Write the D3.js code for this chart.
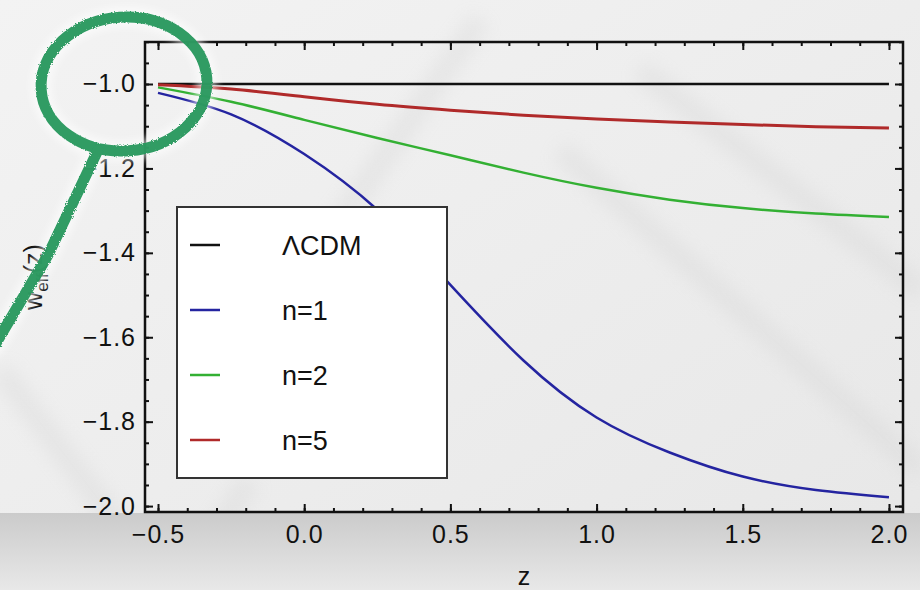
<!DOCTYPE html>
<html lang="en">
<head>
<meta charset="UTF-8">
<title>w_eff(z)</title>
<style>
  body { margin: 0; background: #ebebeb; }
  svg { display: block; }
  text { font-family: "Liberation Sans", Arial, sans-serif; fill: #111; }
</style>
</head>
<body>
<svg id="vis" width="920" height="590"></svg>
<script src="https://d3js.org/d3.v7.min.js"></script>
<script>
// Data
const zValues = [-0.5, -0.25, 0, 0.25, 0.5, 0.75, 1.0, 1.25, 1.5, 1.75, 2.0]
const lcdm = [-1, -1, -1, -1, -1, -1, -1, -1, -1, -1, -1]
const n1 = [-1.021, -1.072, -1.166, -1.298, -1.476, -1.655, -1.790, -1.873, -1.930, -1.962, -1.979]
const n2 = [-1.008, -1.042, -1.085, -1.128, -1.169, -1.210, -1.246, -1.274, -1.294, -1.307, -1.315]
const n5 = [-1.002, -1.012, -1.030, -1.048, -1.062, -1.074, -1.083, -1.090, -1.096, -1.101, -1.104]

const seriesNames = ['\u039BCDM', 'n=1', 'n=2', 'n=5']
const seriesColors = ['#111111', '#2424a0', '#33b033', '#b02a2a']
const seriesValues = [lcdm, n1, n2, n5]

const xMajor = [-0.5, 0, 0.5, 1.0, 1.5, 2.0]
const yMajor = [-2.0, -1.8, -1.6, -1.4, -1.2, -1.0]

// Layout
const frame = { left: 145, right: 903, top: 42, bottom: 512 }
const svg = d3.select('#vis')

const x = d3.scaleLinear().domain([-0.5445, 2.048]).range([frame.left, frame.right])
const y = d3.scaleLinear().domain([-2.014, -0.9005]).range([frame.bottom, frame.top])

// Background (slide)
const defs = svg.append('defs')
const bg = defs.append('linearGradient').attr('id', 'bg').attr('x1', 0).attr('y1', 0).attr('x2', 1).attr('y2', 1)
bg.append('stop').attr('offset', '0%').attr('stop-color', '#f3f3f3')
bg.append('stop').attr('offset', '100%').attr('stop-color', '#e7e7e7')
const band = defs.append('linearGradient').attr('id', 'band').attr('x1', 0).attr('y1', 0).attr('x2', 0).attr('y2', 1)
band.append('stop').attr('offset', '0%').attr('stop-color', '#cbcbcb')
band.append('stop').attr('offset', '100%').attr('stop-color', '#e8e8e8')
defs.append('filter').attr('id', 'blur').append('feGaussianBlur').attr('stdDeviation', 9)
defs.append('filter').attr('id', 'glow').append('feGaussianBlur').attr('stdDeviation', 4)
const rough = defs.append('filter').attr('id', 'rough')
rough.append('feTurbulence').attr('type', 'fractalNoise').attr('baseFrequency', 0.9).attr('numOctaves', 2).attr('result', 'n')
rough.append('feDisplacementMap').attr('in', 'SourceGraphic').attr('in2', 'n').attr('scale', 3)

svg.append('rect').attr('width', 920).attr('height', 590).attr('fill', 'url(#bg)')

// faint diagonal stripes of the slide theme
const stripes = svg.append('g').attr('filter', 'url(#blur)').attr('fill', 'none')
  .attr('stroke', '#d4d4d4').attr('stroke-width', 22).attr('opacity', 0.35)
stripes.append('path').attr('d', 'M0,370 L175,600 L250,480')
stripes.append('path').attr('d', 'M330,235 L480,20')
stripes.append('path').attr('d', 'M560,150 L920,470')
stripes.append('path').attr('d', 'M640,70 L920,290')

svg.append('rect').attr('y', 513).attr('width', 920).attr('height', 77).attr('fill', 'url(#band)')

// Curves
const line = d3.line()
  .x((d, i) => x(zValues[i]))
  .y(d => y(d))
  .curve(d3.curveNatural)

svg.append('g').selectAll('path')
  .data(seriesValues)
  .join('path')
  .attr('d', d => line(d))
  .attr('fill', 'none')
  .attr('stroke', (d, i) => seriesColors[i])
  .attr('stroke-width', (d, i) => i === 3 ? 3 : 2.5)

// Axes with inward ticks (Mathematica frame style)
function makeAxis(axisFn, scale, values, size, labels) {
  const a = axisFn(scale)
    .tickValues(values)
    .tickSizeInner(-size)
    .tickSizeOuter(0)
  if (!labels) a.tickFormat('')
  return a
}

const xMinor = d3.range(-5, 21).map(v => v / 10)
const yMinor = d3.range(-40, -17).map(v => v / 20)

const axes = svg.append('g')

const axisBottomG = axes.append('g').attr('transform', `translate(0,${frame.bottom})`)
axisBottomG.call(makeAxis(d3.axisBottom, x, xMinor, 4, false))
axisBottomG.append('g').call(makeAxis(d3.axisBottom, x, xMajor, 8, true).tickPadding(13).tickFormat(d3.format('.1f')))

const axisTopG = axes.append('g').attr('transform', `translate(0,${frame.top})`)
axisTopG.call(makeAxis(d3.axisTop, x, xMinor, 4, false))
axisTopG.append('g').call(makeAxis(d3.axisTop, x, xMajor, 8, false))

const axisLeftG = axes.append('g').attr('transform', `translate(${frame.left},0)`)
axisLeftG.call(makeAxis(d3.axisLeft, y, yMinor, 4, false))
axisLeftG.append('g').call(makeAxis(d3.axisLeft, y, yMajor, 8, true).tickPadding(9).tickFormat(d3.format('.1f')))

const axisRightG = axes.append('g').attr('transform', `translate(${frame.right},0)`)
axisRightG.call(makeAxis(d3.axisRight, y, yMinor, 4, false))
axisRightG.append('g').call(makeAxis(d3.axisRight, y, yMajor, 8, false))

axes.selectAll('.domain').remove()
axes.selectAll('line').attr('stroke', '#111').attr('stroke-width', 2)
axes.selectAll('text')
  .attr('fill', '#111')
  .attr('font-size', 25)
  .attr('letter-spacing', 1)
  .attr('font-family', '"Liberation Sans", Arial, sans-serif')

// frame
svg.append('rect')
  .attr('x', frame.left).attr('y', frame.top)
  .attr('width', frame.right - frame.left).attr('height', frame.bottom - frame.top)
  .attr('fill', 'none').attr('stroke', '#111').attr('stroke-width', 2.5)

// Axis titles
svg.append('text')
  .attr('x', (frame.left + frame.right) / 2).attr('y', 585)
  .attr('text-anchor', 'middle').attr('font-size', 25)
  .text('z')

const yTitle = svg.append('text')
  .attr('transform', `translate(42,${(frame.top + frame.bottom) / 2}) rotate(-90)`)
  .attr('text-anchor', 'middle').attr('font-size', 25)
yTitle.append('tspan').text('w')
yTitle.append('tspan').attr('font-size', 17).attr('dy', 6).text('eff')
yTitle.append('tspan').attr('dy', -6).text('(z)')

// Legend
const legend = svg.append('g').attr('transform', 'translate(177,207)')
legend.append('rect')
  .attr('width', 270).attr('height', 271)
  .attr('fill', '#ffffff').attr('stroke', '#333').attr('stroke-width', 2)
const items = legend.selectAll('g.item')
  .data(seriesNames)
  .join('g')
  .attr('class', 'item')
  .attr('transform', (d, i) => `translate(0,${38 + i * 65})`)
items.append('line')
  .attr('x1', 13).attr('x2', 43)
  .attr('stroke', (d, i) => seriesColors[i]).attr('stroke-width', 2.5)
items.append('text')
  .attr('x', 105).attr('dy', '0.36em')
  .attr('font-size', 27)
  .text(d => d)

// Hand-drawn green annotation on the slide (with a soft light halo)
function drawNote(g) {
  g.append('ellipse').attr('cx', 124).attr('cy', 84).attr('rx', 83).attr('ry', 67)
    .attr('transform', 'rotate(-4,124,84)')
  g.append('path').attr('d', 'M98,150 L48,255 L-5,345').attr('stroke-linecap', 'round')
}
const halo = svg.append('g').attr('fill', 'none').attr('stroke', '#ffffff')
  .attr('stroke-width', 20).attr('filter', 'url(#glow)').attr('opacity', 0.6)
drawNote(halo)
const note = svg.append('g').attr('fill', 'none').attr('stroke', '#25975c')
  .attr('stroke-width', 11).attr('filter', 'url(#rough)').attr('opacity', 0.95)
drawNote(note)
</script>
</body>
</html>
